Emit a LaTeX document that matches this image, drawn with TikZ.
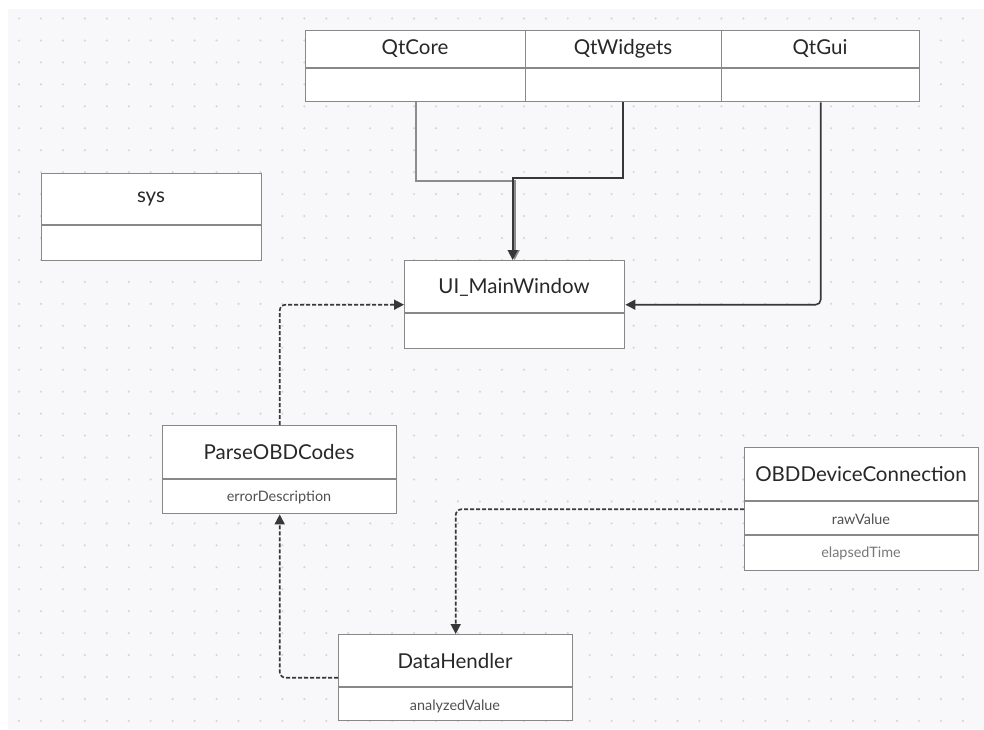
\documentclass[tikz,border=0pt]{standalone}
\usepackage{fontspec}
\setmainfont{Lato}
\usetikzlibrary{arrows.meta,calc}
\definecolor{bgc}{RGB}{248,248,250}
\definecolor{dotc}{RGB}{214,214,218}
\definecolor{boxline}{RGB}{136,136,136}
\definecolor{txt}{RGB}{40,40,40}
\definecolor{attr}{RGB}{80,80,80}
\definecolor{attrl}{RGB}{120,120,120}
\definecolor{conn}{RGB}{55,55,55}
\definecolor{connl}{RGB}{140,140,140}
\tikzset{
  box/.style={draw=boxline, line width=1.4pt, fill=white, rectangle, inner sep=0pt, anchor=north west},
  divider/.style={draw=boxline, line width=1.4pt},
  title/.style={font=\fontsize{20.5}{22}\selectfont, text=txt, inner sep=0pt},
  attrtext/.style={font=\fontsize{14.4}{16}\selectfont, text=attr, inner sep=0pt},
  attrlight/.style={font=\fontsize{14.4}{16}\selectfont, text=attrl, inner sep=0pt},
  tip/.style={-{Triangle[length=10pt,width=10pt]}},
  solidconn/.style={draw=conn, line width=1.6pt, tip, rounded corners=5pt},
  sharpconn/.style={draw=conn, line width=1.6pt, tip},
  lightconn/.style={draw=connl, line width=1.6pt, tip},
  dashconn/.style={draw=conn, line width=1.6pt, tip, dash pattern=on 4pt off 2pt, rounded corners=6pt},
}
\begin{document}
\begin{tikzpicture}[x=1pt,y=-1pt]
\useasboundingbox (0,0) rectangle (984,729);
\fill[white] (0,0) rectangle (984,729);
\fill[bgc] (8,9) rectangle (984,729);
\foreach \i in {0,...,43} {
  \foreach \j in {0,...,32} {
    \fill[dotc] ({19+21.95*\i},{18.5+21.95*\j}) circle (1.2pt);
  }
}
% Qt modules
\node[box, minimum width=220pt, minimum height=71pt] (qtcore) at (305,30) {};
\node[box, minimum width=196pt, minimum height=71pt] (qtwidgets) at (525,30) {};
\node[box, minimum width=198pt, minimum height=71pt] (qtgui) at (721,30) {};
\draw[divider] (305,68) -- (919,68);
\node[title] (qtcoreT) at (415,49) {QtCore};
\node[title] (qtwidgetsT) at (623,49) {QtWidgets};
\node[title] (qtguiT) at (820,49) {QtGui};
% sys
\node[box, minimum width=220pt, minimum height=87pt] (sys) at (41,173) {};
\draw[divider] (41,225) -- (261,225);
\node[title] (sysT) at (151,199) {sys};
% UI_MainWindow
\node[box, minimum width=220pt, minimum height=88pt] (ui) at (404,260) {};
\draw[divider] (404,313) -- (624,313);
\node[title] (uiT) at (514,287) {UI\_MainWindow};
% ParseOBDCodes
\node[box, minimum width=234pt, minimum height=88pt] (parse) at (162,425) {};
\draw[divider] (162,479) -- (396,479);
\node[title] (parseT) at (279,452) {ParseOBDCodes};
\node[attrtext] (parseA) at (279,497) {errorDescription};
% OBDDeviceConnection
\node[box, minimum width=234pt, minimum height=123pt] (obd) at (744,447) {};
\draw[divider] (744,501) -- (978,501);
\draw[divider] (744,535) -- (978,535);
\node[title] (obdT) at (861,474) {OBDDeviceConnection};
\node[attrtext] (obdA) at (861,519) {rawValue};
\node[attrlight] (obdB) at (861,553) {elapsedTime};
% DataHendler
\node[box, minimum width=234pt, minimum height=86pt] (dh) at (338,634) {};
\draw[divider] (338,687) -- (572,687);
\node[title] (dhT) at (455,661) {DataHendler};
\node[attrtext] (dhA) at (455,706) {analyzedValue};
% connectors
\draw[lightconn] (qtcore.south) |- ($(ui.north)+(0,-79)$) -- (ui.north);
\draw[sharpconn] ($(qtwidgets.south)+(-0.5,0)$) |- ($(ui.north)+(-2,-82)$) -- ($(ui.north)+(-2,0)$);
\draw[solidconn] (qtgui.south) |- (ui.east);
\draw[dashconn] (parse.north) |- (ui.west);
\draw[dashconn] (dh.west) -| (parse.south);
\draw[dashconn] (obd.west) -| (dh.north);
\end{tikzpicture}
\end{document}
